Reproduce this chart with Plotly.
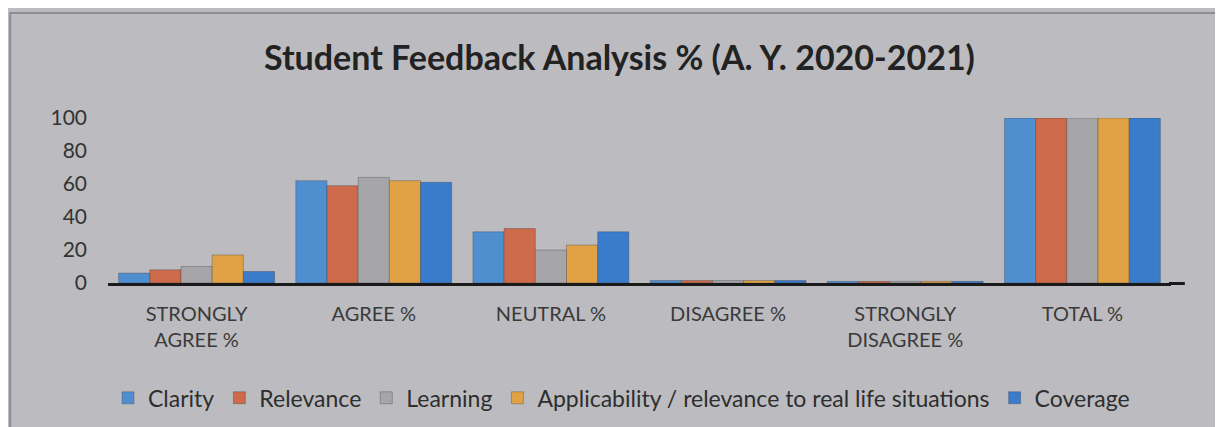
import plotly.graph_objects as go

categories = ["STRONGLY<br>AGREE %", "AGREE %", "NEUTRAL %", "DISAGREE %", "STRONGLY<br>DISAGREE %", "TOTAL %"]
series_names = ["Clarity", "Relevance", "Learning", "Applicability / relevance to real life situations", "Coverage"]
clarity = [6, 62, 31, 1.5, 1, 100]
relevance = [8, 59, 33, 1.5, 1, 100]
learning = [10, 64, 20, 1.5, 1, 100]
applicability = [17, 62, 23, 1.5, 1, 100]
coverage = [7, 61, 31, 1.5, 1, 100]
y_ticks = [0, 20, 40, 60, 80, 100]

values = [clarity, relevance, learning, applicability, coverage]
colors = ["#4f8fd0", "#cc6a4a", "#a6a6a9", "#e0a245", "#3b7bcc"]

fig = go.Figure()
for name, vals, col in zip(series_names, values, colors):
    fig.add_trace(go.Bar(
        x=categories, y=vals, name=name,
        marker=dict(color=col, line=dict(color="rgba(60,60,70,0.35)", width=1)),
    ))

fig.update_layout(
    width=1223, height=427,
    paper_bgcolor="#bcbcc0",
    plot_bgcolor="#bcbcc0",
    font=dict(family="Lato, Open Sans, sans-serif", color="#333333"),
    title=dict(text="<b>Student Feedback Analysis % (A. Y. 2020-2021)</b>",
               x=0.5, xanchor="center", y=0.883, yanchor="middle",
               font=dict(size=34, color="#222222")),
    barmode="group", bargap=0.12, bargroupgap=0.0,
    margin=dict(l=100, r=60, t=110, b=152),
    showlegend=True,
    legend=dict(orientation="h", x=0.0, xanchor="left", y=0.087, yanchor="middle",
                xref="paper", yref="container",
                font=dict(size=23, color="#2e2e2e"), itemwidth=30,
                traceorder="normal", bgcolor="rgba(0,0,0,0)"),
    shapes=[
        dict(type="rect", xref="paper", yref="paper", x0=-0.092, x1=1.043, y0=-1.2, y1=1.636,
             line=dict(color="#8e8e94", width=2), fillcolor="rgba(0,0,0,0)", layer="below"),
        dict(type="line", xref="paper", yref="paper", x0=0.998, x1=1.013, y0=-0.003, y1=-0.003,
             line=dict(color="#1a1a1a", width=3)),
    ],
)
fig.update_xaxes(showline=True, linecolor="#1a1a1a", linewidth=3, ticks="",
                 tickfont=dict(size=20, color="#3a3a3a"), showgrid=False, ticklabelstandoff=11)
fig.update_yaxes(range=[0, 100], tickvals=y_ticks, showgrid=False, zeroline=False,
                 tickfont=dict(size=21, color="#333333"), ticks="", ticklabelstandoff=20)

fig.write_html("out.html", config={"displayModeBar": False})
